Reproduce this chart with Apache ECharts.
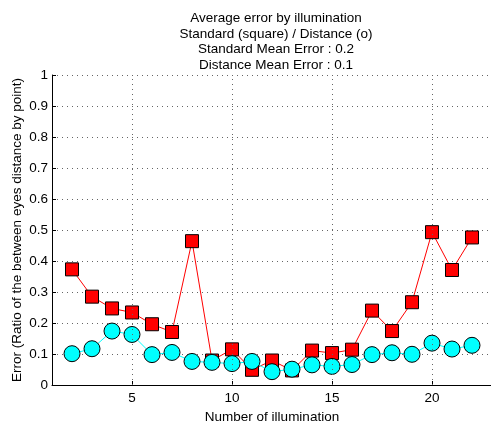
<!DOCTYPE html>
<html>
<head>
<meta charset="utf-8">
<script src="https://cdn.jsdelivr.net/npm/echarts@6/dist/echarts.min.js"></script>
<style>
html, body { margin: 0; padding: 0; background: #fff; }
#chart { width: 491px; height: 423px; }
</style>
</head>
<body>
<div id="chart"></div>
<script>
// illumination index
var illum = [2, 3, 4, 5, 6, 7, 8, 9, 10, 11, 12, 13, 14, 15, 16, 17, 18, 19, 20, 21, 22];
// standard method (squares)
var standardErr = [0.373, 0.285, 0.247, 0.234, 0.196, 0.171, 0.464, 0.079, 0.115, 0.049, 0.079,
    0.047, 0.111, 0.103, 0.114, 0.240, 0.174, 0.267, 0.493, 0.371, 0.476];
// distance method (circles)
var distanceErr = [0.101, 0.117, 0.174, 0.163, 0.098, 0.105, 0.076, 0.073, 0.069, 0.076, 0.043,
    0.051, 0.065, 0.060, 0.066, 0.098, 0.104, 0.099, 0.135, 0.116, 0.128];
var xTicks = [5, 10, 15, 20];

var chart = echarts.init(document.getElementById('chart'));

function pairs(ys) {
    return illum.map(function (x, i) { return [x, ys[i]]; });
}

var font = 'Liberation Sans, Arial, sans-serif';
var fs = 13.5;

var option = {
    animation: false,
    backgroundColor: '#fff',
    textStyle: { fontFamily: font },
    title: {
        text: 'Average error by illumination\nStandard (square) / Distance (o)\nStandard Mean Error : 0.2\nDistance Mean Error : 0.1',
        left: 271,
        top: 6,
        textAlign: 'center',
        textStyle: {
            fontSize: fs,
            fontWeight: 'normal',
            color: '#000',
            lineHeight: 15.5,
            fontFamily: font,
            align: 'center'
        }
    },
    grid: { left: 52, top: 75, right: -1, bottom: 38, outerBoundsMode: 'none', containLabel: false },
    xAxis: {
        type: 'value',
        min: 1,
        max: 23,
        name: 'Number of illumination',
        nameLocation: 'middle',
        nameGap: 21,
        nameTextStyle: { fontSize: fs, color: '#000' },
        axisLine: { lineStyle: { color: '#000', width: 1 } },
        axisTick: { inside: true, length: 4, customValues: xTicks, lineStyle: { color: '#000' } },
        axisLabel: { customValues: xTicks, fontSize: fs, color: '#000', margin: 6 },
        splitLine: { show: false }
    },
    yAxis: {
        type: 'value',
        min: 0,
        max: 1,
        interval: 0.1,
        name: 'Error (Ratio of the between eyes distance by point)',
        nameLocation: 'middle',
        nameRotate: 90,
        nameGap: 28,
        nameMoveOverlap: false,
        nameTextStyle: { fontSize: fs, color: '#000' },
        axisLine: { show: true, lineStyle: { color: '#000', width: 1 } },
        axisTick: { show: true, inside: true, length: 4, lineStyle: { color: '#000' } },
        axisLabel: {
            fontSize: fs, color: '#000', margin: 4,
            formatter: function (v) { return String(Math.round(v * 10) / 10); }
        },
        splitLine: { show: true, lineStyle: { color: '#666', type: [1, 4], width: 1 } }
    },
    series: [
        {
            name: 'Standard',
            type: 'line',
            data: pairs(standardErr),
            symbol: 'rect',
            symbolSize: 13,
            lineStyle: { color: '#ff0000', width: 1 },
            itemStyle: { color: '#ff0000', borderColor: '#000', borderWidth: 1 },
            markLine: {
                silent: true,
                symbol: 'none',
                label: { show: false },
                lineStyle: { color: '#666', type: [1, 4], width: 1 },
                data: xTicks.map(function (t) { return { xAxis: t }; })
            },
            z: 3
        },
        {
            name: 'Distance',
            type: 'line',
            data: pairs(distanceErr),
            symbol: 'circle',
            symbolSize: 16,
            lineStyle: { color: '#00ffff', width: 1 },
            itemStyle: { color: '#00ffff', borderColor: '#000', borderWidth: 1 },
            z: 4
        }
    ]
};

chart.setOption(option);
</script>
</body>
</html>
